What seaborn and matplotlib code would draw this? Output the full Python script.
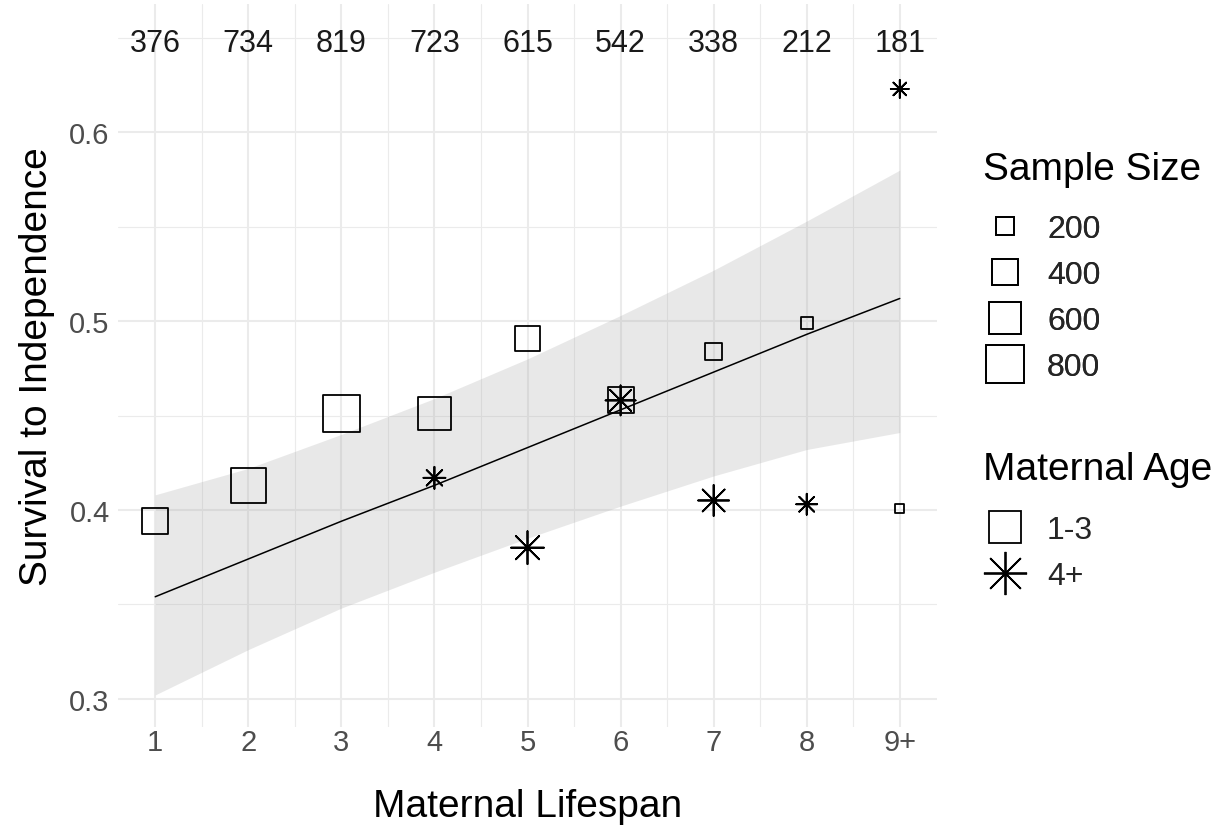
import numpy as np
import pandas as pd
import seaborn as sns
import matplotlib.pyplot as plt
from matplotlib.lines import Line2D
from matplotlib.ticker import FixedLocator

# Lifespan categories (last one is open-ended)
lifespan_pos = [1, 2, 3, 4, 5, 6, 7, 8, 9]
lifespan_labels = ["1", "2", "3", "4", "5", "6", "7", "8", "9+"]
total_n = [376, 734, 819, 723, 615, 542, 338, 212, 181]

# Maternal age 1-3
young_x = [1, 2, 3, 4, 5, 6, 7, 8, 9]
young_surv = [0.394, 0.413, 0.451, 0.451, 0.491, 0.458, 0.484, 0.499, 0.401]
young_n = [376, 734, 819, 633, 357, 387, 157, 71, 34]

# Maternal age 4+
old_x = [4, 5, 6, 7, 8, 9]
old_surv = [0.417, 0.380, 0.458, 0.405, 0.403, 0.623]
old_n = [134, 320, 263, 281, 121, 85]

# Fitted trend with confidence band
fit_x = [1, 2, 3, 4, 5, 6, 7, 8, 9]
fit_y = [0.354, 0.374, 0.394, 0.413, 0.433, 0.453, 0.473, 0.493, 0.512]
fit_lo = [0.302, 0.326, 0.348, 0.367, 0.385, 0.402, 0.418, 0.432, 0.441]
fit_hi = [0.408, 0.422, 0.440, 0.459, 0.480, 0.503, 0.527, 0.553, 0.580]

legend_sizes = [200, 400, 600, 800]

young = pd.DataFrame({"x": young_x, "y": young_surv, "n": young_n})
old = pd.DataFrame({"x": old_x, "y": old_surv, "n": old_n})
fit = pd.DataFrame({"x": fit_x, "y": fit_y, "lo": fit_lo, "hi": fit_hi})

sns.set_theme(style="white")
plt.rcParams["font.family"] = ["Liberation Sans", "DejaVu Sans"]

W, H = 1225, 828
fig = plt.figure(figsize=(W / 100, H / 100), dpi=100)
ax = fig.add_axes([118 / W, 1 - 728 / H, (937 - 118) / W, (728 - 5) / H])

# area (points^2) grows linearly with the sample size
def area(n):
    return 12.6 + 0.872 * np.asarray(n, dtype=float)

STAR_GAIN = 1.93
size_norm = (0, 1000)
size_range = (float(area(0)), float(area(1000)))

ax.set_xlim(0.6, 9.4)
ax.set_ylim(0.285, 0.668)

grid_c = "#EBEBEB"
for v in np.arange(1.5, 9.0, 1.0):
    ax.axvline(v, color=grid_c, lw=0.8, zorder=0)
for v in lifespan_pos:
    ax.axvline(v, color=grid_c, lw=1.5, zorder=0)
for v in [0.35, 0.45, 0.55, 0.65]:
    ax.axhline(v, color=grid_c, lw=0.8, zorder=0)
for v in [0.3, 0.4, 0.5, 0.6]:
    ax.axhline(v, color=grid_c, lw=1.5, zorder=0)

ax.fill_between(fit["x"], fit["lo"], fit["hi"], color="#999999", alpha=0.22,
                linewidth=0, zorder=1)
sns.lineplot(data=fit, x="x", y="y", color="black", lw=1.1, ax=ax, zorder=2)

sns.scatterplot(data=young, x="x", y="y", size="n", sizes=size_range,
                size_norm=size_norm, marker="s", facecolors="none",
                edgecolor="black", linewidth=1.3, legend=False, ax=ax, zorder=3)
sns.scatterplot(data=old, x="x", y="y", size="n",
                sizes=(size_range[0] * STAR_GAIN, size_range[1] * STAR_GAIN),
                size_norm=size_norm, marker=(8, 2, 0), color="black",
                linewidth=1.3, legend=False, ax=ax, zorder=3)

for xp, n in zip(lifespan_pos, total_n):
    ax.text(xp, 0.6475, str(n), ha="center", va="center", fontsize=22,
            color="#1A1A1A", zorder=4)

for s in ax.spines.values():
    s.set_visible(False)
ax.xaxis.set_major_locator(FixedLocator(lifespan_pos))
ax.set_xticklabels(lifespan_labels)
ax.yaxis.set_major_locator(FixedLocator([0.3, 0.4, 0.5, 0.6]))
ax.set_yticklabels(["0.3", "0.4", "0.5", "0.6"])
ax.tick_params(axis="both", length=0, labelsize=21, labelcolor="#4D4D4D")
ax.tick_params(axis="x", pad=1)
ax.tick_params(axis="y", pad=6)
ax.set_xlabel("Maternal Lifespan", fontsize=28, color="black", labelpad=23)
ax.set_ylabel("Survival to Independence", fontsize=28, color="black", labelpad=10)

# Legends: titles as figure text, entries as title-less legends
LEG_FS = 23
fig.text(983 / W, 1 - 170 / H, "Sample Size", fontsize=28, color="black",
         ha="left", va="center")
fig.text(983 / W, 1 - 470 / H, "Maternal Age", fontsize=28, color="black",
         ha="left", va="center")

common = dict(frameon=False, fontsize=LEG_FS, labelspacing=0.5,
              handlelength=1.4, handletextpad=0.6, borderpad=0,
              borderaxespad=0, loc="center left")

size_handles = [
    Line2D([], [], ls="none", marker="s", markerfacecolor="none",
           markeredgecolor="black", markeredgewidth=1.3,
           markersize=float(np.sqrt(area(v))))
    for v in legend_sizes
]
leg1 = fig.legend(size_handles, [str(v) for v in legend_sizes],
                  bbox_to_anchor=(983 / W, 1 - 299 / H), **common)
fig.add_artist(leg1)

age_handles = [
    Line2D([], [], ls="none", marker="s", markerfacecolor="none",
           markeredgecolor="black", markeredgewidth=1.3,
           markersize=float(np.sqrt(area(560)))),
    Line2D([], [], ls="none", marker=(8, 2, 0), color="black",
           markeredgewidth=1.3,
           markersize=float(np.sqrt(area(560) * STAR_GAIN))),
]
fig.legend(age_handles, ["1-3", "4+"],
           bbox_to_anchor=(983 / W, 1 - 554 / H), **common)

fig.savefig("out.png", dpi=100)
